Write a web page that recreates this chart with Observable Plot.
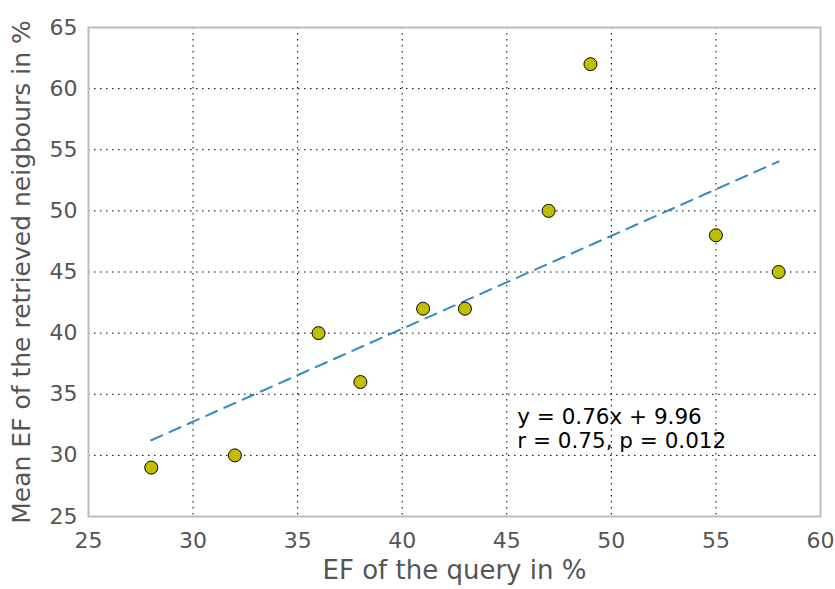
<!DOCTYPE html>
<html><head><meta charset="utf-8">
<script src="https://cdn.jsdelivr.net/npm/d3@7"></script>
<script src="https://cdn.jsdelivr.net/npm/@observablehq/plot@0.6"></script>
<style>body{margin:0;background:#fff;font-family:"DejaVu Sans",sans-serif;}</style>
</head><body><div id="chart"></div>
<script>
const queryEF = [28, 32, 36, 38, 41, 43, 47, 49, 55, 58];
const neighbourEF = [29, 30, 40, 36, 42, 42, 50, 62, 48, 45];
const slope = 0.76, intercept = 9.96;
const fitX = [28, 58];
const xTicks = [25, 30, 35, 40, 45, 50, 55, 60];
const yTicks = [25, 30, 35, 40, 45, 50, 55, 60, 65];
const xLabel = "EF of the query in %";
const yLabel = "Mean EF of the retrieved neigbours in %";
const annotation = [{x: 45.5, y: 32.6, text: "y = 0.76x + 9.96"}, {x: 45.5, y: 30.6, text: "r = 0.75, p = 0.012"}];

const pts = queryEF.map((x, i) => ({x, y: neighbourEF[i]}));
const fit = fitX.map(x => ({x, y: slope * x + intercept}));

const chart = Plot.plot({
  width: 835, height: 589,
  marginLeft: 88, marginRight: 15, marginTop: 27, marginBottom: 73,
  style: {fontFamily: "DejaVu Sans", fontSize: "22px", color: "#555", background: "#fff"},
  x: {domain: [25, 60]},
  y: {domain: [25, 65]},
  marks: [
    Plot.gridX(xTicks.slice(1, -1), {stroke: "#000", strokeOpacity: 1, strokeWidth: 1, strokeDasharray: "1.5,4.5"}),
    Plot.gridY(yTicks.slice(1, -1), {stroke: "#000", strokeOpacity: 1, strokeWidth: 1, strokeDasharray: "1.5,4.5"}),
    Plot.axisX({ticks: xTicks, tickSize: 0, tickPadding: 16, fontSize: 22, fill: "#555", label: xLabel, labelAnchor: "center", labelOffset: 62, labelArrow: "none"}),
    Plot.axisY({ticks: yTicks, tickSize: 0, tickPadding: 11, fontSize: 22, fill: "#555", label: yLabel, labelAnchor: "center", labelOffset: 76, labelArrow: "none"}),
    Plot.line(fit, {x: "x", y: "y", stroke: "#348ABD", strokeWidth: 2, strokeDasharray: "12,8"}),
    Plot.dot(pts, {x: "x", y: "y", r: 6.5, fill: "#BFBF00", stroke: "#000", strokeWidth: 1}),
    Plot.text(annotation, {x: "x", y: "y", text: "text", textAnchor: "start", fontSize: 21.5, fill: "#000", lineAnchor: "bottom"}),
    Plot.frame({stroke: "#bcbcbc", strokeWidth: 2})
  ]
});
document.getElementById("chart").appendChild(chart);
const tickTexts = new Set([...xTicks, ...yTicks].map(String));
chart.querySelectorAll("text").forEach(t => {
  if (t.textContent === xLabel) { t.setAttribute("font-size", "26"); t.style.fontSize = "26px"; }
  else if (t.textContent === yLabel) { t.setAttribute("font-size", "25"); t.style.fontSize = "25px"; }
  else if (tickTexts.has(t.textContent)) { t.setAttribute("font-size", "22"); t.style.fontSize = "22px"; }
});
</script></body></html>
